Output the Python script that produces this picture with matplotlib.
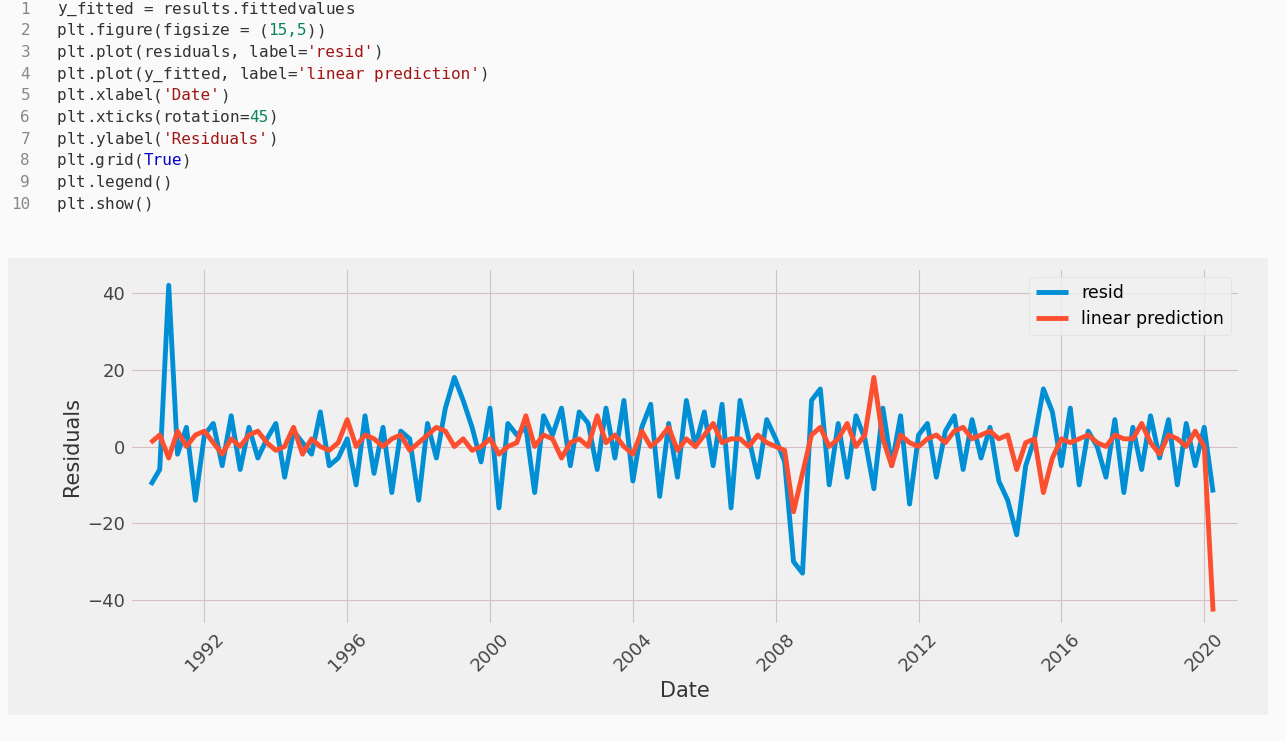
import numpy as np
import pandas as pd
import matplotlib.pyplot as plt
from matplotlib.patches import Rectangle

plt.style.use('fivethirtyeight')

# quarterly dates, mid-1990 through Q2 2020
dates = pd.date_range('1990-07-01', periods=120, freq='QS')

resid = [-10, -6,
         42, -2, 5, -14,   3, 6, -5, 8,   -6, 5, -3, 2,   6, -8, 4, 1,
         -2, 9, -5, -3,    2, -10, 8, -7, 5, -12, 4, 2,   -14, 6, -3, 10,
         18, 12, 5, -4,    10, -16, 6, 3, 5, -12, 8, 3,   10, -5, 9, 6,
         -6, 10, -3, 12,   -9, 5, 11, -13, 6, -8, 12, 0,  9, -5, 11, -16,
         12, 2, -8, 7,     2, -4, -30, -33, 12, 15, -10, 6, -8, 8, 2, -11,
         10, -5, 8, -15,   3, 6, -8, 4,   8, -6, 7, -3,   5, -9, -14, -23,
         -5, 2, 15, 9,     -5, 10, -10, 4, 0, -8, 7, -12, 5, -6, 8, -3,
         7, -10, 6, -5,
         5, -12]

y_fitted = [1, 3,
            -3, 4, 0, 3,   4, 1, -2, 2,   0, 3, 4, 1,   -1, 0, 5, -2,
            2, 0, -1, 1,   7, 0, 3, 2,    0, 2, 3, -1,  1, 3, 5, 4,
            0, 2, -1, 0,   2, -2, 0, 1,   8, 0, 3, 2,   -3, 1, 2, 0,
            8, 1, 3, 0,    -2, 4, 0, 2,   5, -1, 2, 0,  3, 6, 1, 2,
            2, 0, 3, 1,    0, -1, -17, -7, 3, 5, 0, 2,  6, 0, 3, 18,
            2, -5, 3, 1,   0, 2, 3, 1,    4, 5, 2, 3,   4, 2, 3, -6,
            1, 2, -12, -3, 2, 1, 2, 3,    1, 0, 3, 2,   2, 6, 1, -2,
            3, 2, 0, 4,
            0, -43]

code_lines = [
    "y_fitted = results.fittedvalues",
    "plt.figure(figsize = (15,5))",
    "plt.plot(residuals, label='resid')",
    "plt.plot(y_fitted, label='linear prediction')",
    "plt.xlabel('Date')",
    "plt.xticks(rotation=45)",
    "plt.ylabel('Residuals')",
    "plt.grid(True)",
    "plt.legend()",
    "plt.show()",
]

W, H = 1286, 741
fig = plt.figure(figsize=(W / 100, H / 100), dpi=100, facecolor='#fafafa')

# code cell text
cw = 9.6
for i, line in enumerate(code_lines):
    y = 1 - (9 + 21.7 * i) / H
    fig.text(30 / W, y, str(i + 1), ha='right', va='center', family='DejaVu Sans Mono',
             fontsize=11.5, color='#888888')
    # colour strings / numbers / keywords
    j = 0
    while j < len(line):
        ch = line[j]
        if ch == "'":
            k = line.index("'", j + 1) + 1
            seg, col = line[j:k], '#a31515'
        elif line.startswith('True', j):
            k, seg, col = j + 4, 'True', '#0000cc'
        elif ch.isdigit() and not line[j - 1].isalpha():
            k = j
            while k < len(line) and (line[k].isdigit() or line[k] == ','):
                k += 1
            seg, col = line[j:k], '#098658'
        else:
            k, seg, col = j + 1, ch, '#333333'
        fig.text((57 + cw * j) / W, y, seg, ha='left', va='center',
                 family='DejaVu Sans Mono', fontsize=11.5, color=col)
        j = k

# output panel background
fig.add_artist(Rectangle((8 / W, 1 - 715 / H), 1260 / W, 457 / H,
                         transform=fig.transFigure, facecolor='#f0f0f0',
                         edgecolor='none', zorder=-1))

ax = fig.add_axes([130 / W, 1 - 625 / H, 1110 / W, 357 / H])
ax.set_facecolor('#f0f0f0')
ax.plot(dates, resid, label='resid', color='#008fd5', lw=3.5)
ax.plot(dates, y_fitted, label='linear prediction', color='#fc4f30', lw=3.5)
ax.set_ylim(-46.5, 46.5)
ax.set_xlim(pd.Timestamp('1989-12-01'), pd.Timestamp('2021-01-01'))
ax.set_yticks([-40, -20, 0, 20, 40])
ax.set_xlabel('Date', fontsize=15, color='#333333')
ax.set_ylabel('Residuals', fontsize=15, color='#333333')
ax.tick_params(axis='x', rotation=45, labelsize=13, colors='#444444')
ax.tick_params(axis='y', labelsize=13, colors='#444444')
ax.grid(True, color='#d8c0c0', lw=0.8)
ax.legend(fontsize=12.5, facecolor='#f0f0f0', edgecolor='#dddddd', loc='upper right',
          handlelength=1.8)

fig.savefig('out.png', dpi=100, facecolor=fig.get_facecolor())
